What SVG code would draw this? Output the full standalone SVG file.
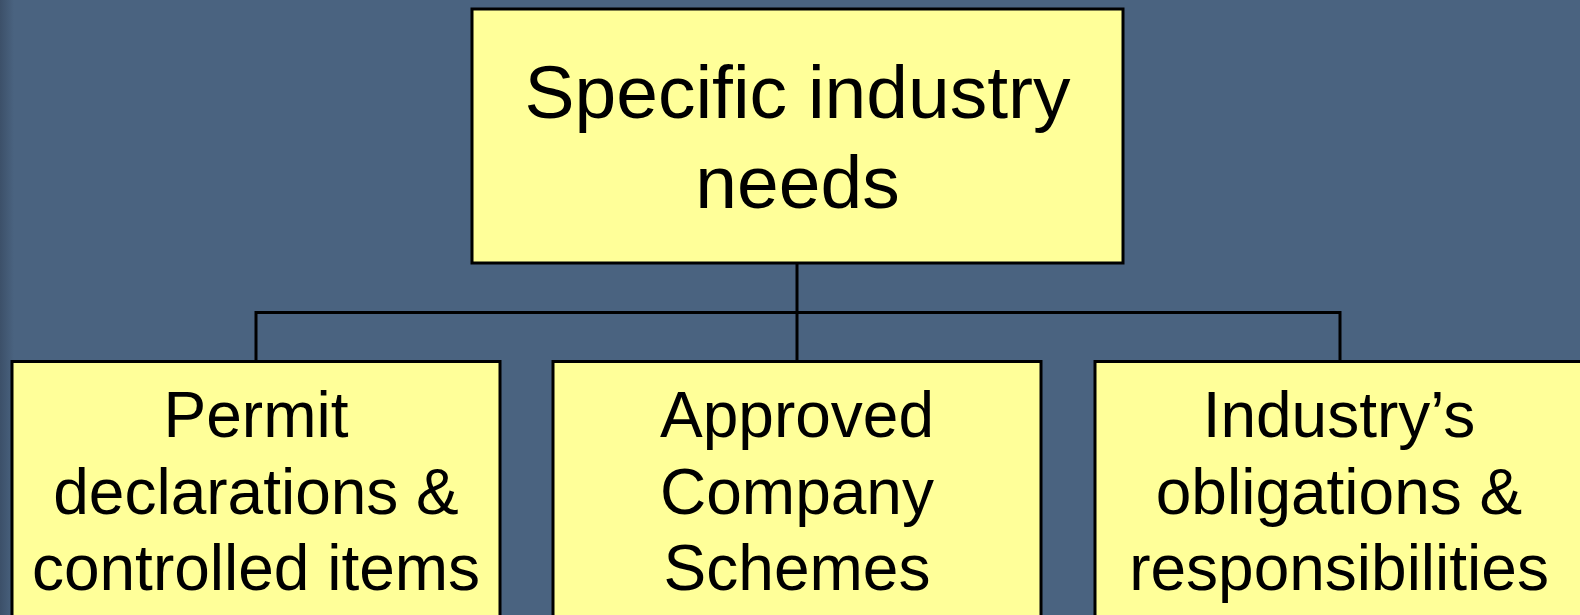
<svg xmlns="http://www.w3.org/2000/svg" width="1580" height="615" viewBox="0 0 1580 615">
<style>
.box{fill:#ffff99;stroke:#000;stroke-width:3}
.conn{fill:none;stroke:#000;stroke-width:3}
.t{font-family:"Liberation Sans",Arial,sans-serif;fill:#000;text-anchor:middle}
.top{font-size:75px}
.sub{font-size:64px}
</style>
<defs>
<linearGradient id="edge" x1="0" y1="0" x2="1" y2="0">
<stop offset="0" stop-color="#3c5069"/>
<stop offset="1" stop-color="#4a6380"/>
</linearGradient>
</defs>
<rect x="0" y="0" width="1580" height="615" fill="#4a6380"/>
<rect x="0" y="0" width="14" height="615" fill="url(#edge)"/>
<g id="connectors">
<line class="conn" x1="797" y1="264" x2="797" y2="360"/>
<polyline class="conn" points="256,360 256,312.5 1340,312.5 1340,360"/>
</g>
<g id="root">
<rect class="box" x="472" y="9" width="651" height="254"/>
<text class="t top" x="797.5" y="118">Specific industry</text>
<text class="t top" x="797.5" y="208">needs</text>
</g>
<g id="permit">
<rect class="box" x="12" y="361.5" width="488" height="270"/>
<text class="t sub" x="256" y="437">Permit</text>
<text class="t sub" x="256" y="513.5">declarations &amp;</text>
<text class="t sub" x="256" y="590">controlled items</text>
</g>
<g id="approved">
<rect class="box" x="553" y="361.5" width="488" height="270"/>
<text class="t sub" x="797" y="437">Approved</text>
<text class="t sub" x="797" y="513.5">Company</text>
<text class="t sub" x="797" y="590">Schemes</text>
</g>
<g id="obligations">
<rect class="box" x="1095" y="361.5" width="488" height="270"/>
<text class="t sub" x="1339" y="437">Industry’s</text>
<text class="t sub" x="1339" y="513.5">obligations &amp;</text>
<text class="t sub" x="1339" y="590">responsibilities</text>
</g>
</svg>
